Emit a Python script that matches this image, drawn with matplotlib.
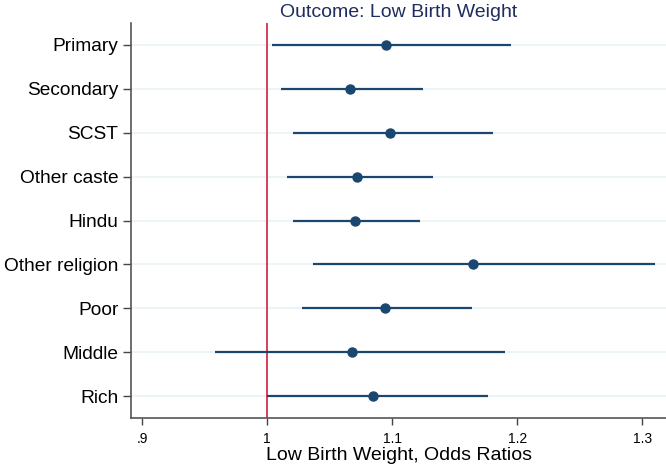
import numpy as np
import matplotlib.pyplot as plt

plt.rcParams['font.family'] = ['Liberation Sans', 'DejaVu Sans']

# Estimates and 95% CI (odds ratios)
labels = ['Primary', 'Secondary', 'SCST', 'Other caste', 'Hindu',
          'Other religion', 'Poor', 'Middle', 'Rich']
est = [1.095, 1.066, 1.098, 1.072, 1.070, 1.165, 1.094, 1.068, 1.085]
lo = [1.004, 1.011, 1.021, 1.016, 1.021, 1.037, 1.028, 0.958, 1.000]
hi = [1.195, 1.125, 1.181, 1.133, 1.122, 1.310, 1.164, 1.190, 1.177]
xticks = [0.9, 1.0, 1.1, 1.2, 1.3]
xticklabels = ['.9', '1', '1.1', '1.2', '1.3']

navy = '#1a476f'
y = np.arange(len(labels))

fig = plt.figure(figsize=(6.66, 4.66), dpi=100)
ax = fig.add_axes([131/666, 1-418/466, 1-131/666, (418-23)/466])

for yi in y:
    ax.axhline(yi, color='#eaf2f3', lw=1.2, zorder=0)
ax.axvline(1, color='#d62d50', lw=1.3, zorder=1)

ax.hlines(y, lo, hi, color=navy, lw=1.6, zorder=2)
ax.plot(est, y, 'o', color=navy, ms=6.5, zorder=3)

ax.set_ylim(len(labels) - 0.5, -0.5)
ax.set_xlim(0.891, 1.319)
ax.set_yticks(y)
ax.set_yticklabels(labels, fontsize=13.8)
ax.set_xticks(xticks)
ax.set_xticklabels(xticklabels, fontsize=10)
ax.tick_params(axis='y', length=6, width=1, color='#444444', pad=3)
ax.tick_params(axis='x', length=5, width=1, color='#444444', pad=5)

for s in ['top', 'right']:
    ax.spines[s].set_visible(False)
for s in ['left', 'bottom']:
    ax.spines[s].set_color('#555555')
    ax.spines[s].set_linewidth(1.2)

ax.set_xlabel('Low Birth Weight, Odds Ratios', fontsize=14, labelpad=1)
ax.set_title('Outcome: Low Birth Weight', fontsize=14, color='#1e2d5e', pad=4)

fig.savefig('out.png', dpi=100)
